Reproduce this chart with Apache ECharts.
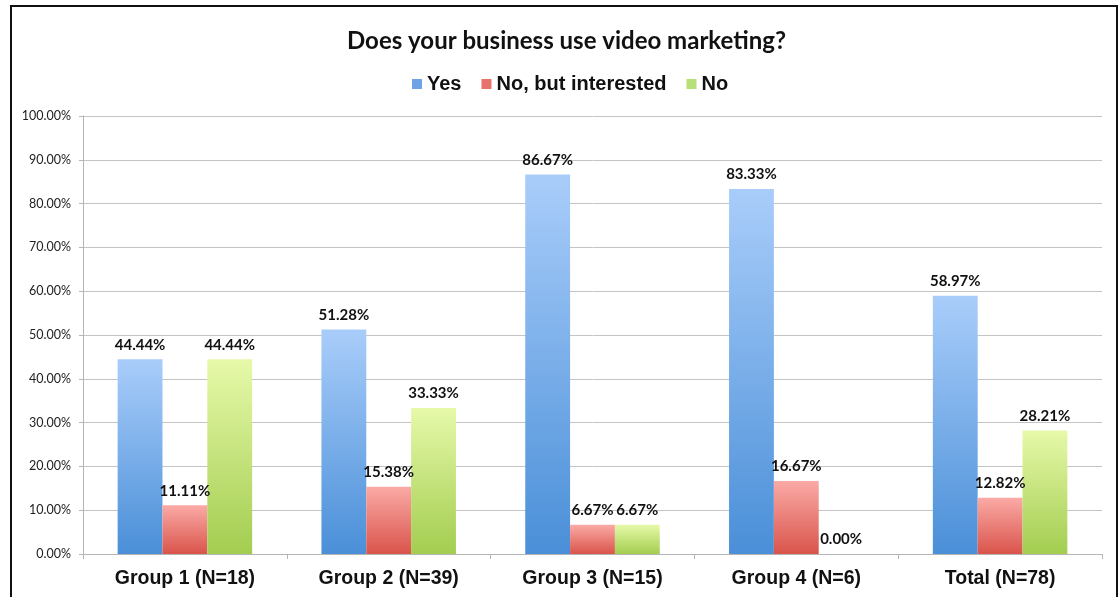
<!DOCTYPE html>
<html>
<head>
<meta charset="utf-8">
<script src="https://cdn.jsdelivr.net/npm/echarts@6/dist/echarts.min.js"></script>
<style>
  html, body { margin: 0; padding: 0; background: #fff; }
  #frame { position: absolute; left: 10px; top: 5px; width: 1108px; height: 600px; border: 2px solid #111; border-bottom: none; box-sizing: border-box; }
  #chart { position: absolute; left: 0; top: 0; width: 1119px; height: 597px; }
</style>
</head>
<body>
<div id="frame"></div>
<div id="chart"></div>
<script>
// Survey: share of businesses using video marketing, by group
const categories = ['Group 1 (N=18)', 'Group 2 (N=39)', 'Group 3 (N=15)', 'Group 4 (N=6)', 'Total (N=78)'];
const yesValues = [44.44, 51.28, 86.67, 83.33, 58.97];
const interestedValues = [11.11, 15.38, 6.67, 16.67, 12.82];
const noValues = [44.44, 33.33, 6.67, 0.00, 28.21];
const seriesNames = ['Yes', 'No, but interested', 'No'];

function grad(top, bottom) {
  return new echarts.graphic.LinearGradient(0, 0, 0, 1, [
    { offset: 0, color: top },
    { offset: 1, color: bottom }
  ]);
}

const labelStyle = {
  show: true,
  position: 'top',
  distance: 7,
  fontFamily: 'Lato',
  fontWeight: 'bold',
  fontSize: 15,
  color: '#111',
  formatter: p => p.value.toFixed(2) + '%'
};

function bar(name, data, top, bottom) {
  return {
    name: name,
    type: 'bar',
    data: data,
    barGap: '0%',
    barCategoryGap: '34%',
    itemStyle: { color: grad(top, bottom) },
    label: labelStyle,
    emphasis: { disabled: true }
  };
}

const chart = echarts.init(document.getElementById('chart'));
chart.setOption({
  animation: false,
  title: {
    text: 'Does your business use video marketing?',
    left: 347,
    top: 29,
    padding: 0,
    textStyle: { fontFamily: 'Lato', fontWeight: 'bold', fontSize: 24, color: '#111' }
  },
  legend: {
    top: 74,
    left: 412,
    padding: 0,
    itemWidth: 10,
    itemHeight: 10,
    itemGap: 20,
    icon: 'rect',
    textStyle: { fontFamily: 'Liberation Sans', fontWeight: 'bold', fontSize: 20, color: '#111' },
    data: [
      { name: seriesNames[0], itemStyle: { color: '#6fa3e6' } },
      { name: seriesNames[1], itemStyle: { color: '#e8736c' } },
      { name: seriesNames[2], itemStyle: { color: '#b9df78' } }
    ]
  },
  grid: { left: 83, right: 17, top: 116, bottom: 43, containLabel: false },
  xAxis: {
    type: 'category',
    data: categories,
    axisLine: { lineStyle: { color: '#b5b5b5', width: 1 } },
    axisTick: { show: true, length: 5, lineStyle: { color: '#b5b5b5' } },
    axisLabel: { fontFamily: 'Liberation Sans', fontWeight: 'bold', fontSize: 19.5, color: '#111', margin: 15 }
  },
  yAxis: {
    type: 'value',
    min: 0,
    max: 100,
    interval: 10,
    axisLine: { show: true, lineStyle: { color: '#b5b5b5' } },
    axisTick: { show: true, length: 4, lineStyle: { color: '#b5b5b5' } },
    splitLine: { lineStyle: { color: '#c4c4c4' } },
    axisLabel: {
      fontFamily: 'Lato',
      fontSize: 12.5,
      color: '#222',
      margin: 12,
      formatter: v => v.toFixed(2) + '%'
    }
  },
  series: [
    bar(seriesNames[0], yesValues, '#a9cdfa', '#4a8fd8'),
    bar(seriesNames[1], interestedValues, '#fbaaa6', '#d9544b'),
    bar(seriesNames[2], noValues, '#e6f9a9', '#a3cd50')
  ]
});
</script>
</body>
</html>
